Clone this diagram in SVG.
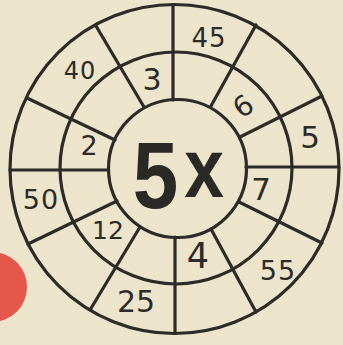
<svg xmlns="http://www.w3.org/2000/svg" width="343" height="345" viewBox="0 0 343 345">
<style>
.ring{fill:none;stroke:#2d2b28;stroke-width:3.2}
.spoke{stroke:#2d2b28;stroke-width:3.2;stroke-linecap:round}
.n{font-family:"DejaVu Sans","Liberation Sans",sans-serif;fill:#2d2b28;text-anchor:middle}
.big{font-family:"Liberation Sans",Arial,sans-serif;font-weight:bold;fill:#2b2926;text-anchor:middle}
</style>
<rect x="0" y="0" width="343" height="345" fill="#ede4cc"/>
<circle id="red-dot" cx="-8" cy="287" r="35" fill="#e5564b"/>
<g id="connectors">
<line class="spoke" x1="173" y1="100" x2="173" y2="5"/>
<line class="spoke" x1="211" y1="106" x2="256" y2="25"/>
<line class="spoke" x1="240" y1="137" x2="322" y2="96"/>
<line class="spoke" x1="246" y1="167" x2="339" y2="167"/>
<line class="spoke" x1="239" y1="202" x2="322" y2="243"/>
<line class="spoke" x1="211" y1="229" x2="256" y2="312"/>
<line class="spoke" x1="175" y1="237" x2="175" y2="333"/>
<line class="spoke" x1="140" y1="227" x2="90" y2="310"/>
<line class="spoke" x1="117" y1="201" x2="28" y2="244"/>
<line class="spoke" x1="108" y1="170" x2="10" y2="170"/>
<line class="spoke" x1="115" y1="140" x2="27" y2="98"/>
<line class="spoke" x1="144" y1="107" x2="96" y2="26"/>
</g>
<g id="outer-ring"><circle class="ring" cx="174.5" cy="169" r="164.5"/></g>
<g id="middle-ring"><circle class="ring" cx="176" cy="168" r="116"/></g>
<g id="center"><circle class="ring" cx="177.5" cy="168.5" r="69"/>
<text class="big" font-size="94" transform="translate(155.5,208) scale(0.87,1)">5</text>
<text class="big" font-size="84" transform="translate(204,197) scale(0.85,1)">x</text>
</g>
<g id="n45"><text class="n" x="209" y="47" font-size="26" letter-spacing="1">45</text></g>
<g id="n3"><text class="n" x="152" y="90" font-size="30">3</text></g>
<g id="n6"><text class="n" font-size="28" transform="translate(243,106) rotate(-35)" y="10">6</text></g>
<g id="n5"><text class="n" x="310" y="148" font-size="31">5</text></g>
<g id="n7"><text class="n" x="261" y="200" font-size="31">7</text></g>
<g id="n55"><text class="n" x="278" y="280" font-size="27" letter-spacing="1">55</text></g>
<g id="n4"><text class="n" x="198" y="268" font-size="35">4</text></g>
<g id="n25"><text class="n" x="136" y="312" font-size="30">25</text></g>
<g id="n12"><text class="n" x="108" y="239" font-size="25">12</text></g>
<g id="n50"><text class="n" x="41" y="209" font-size="27" letter-spacing="1">50</text></g>
<g id="n2"><text class="n" x="89" y="155" font-size="27">2</text></g>
<g id="n40"><text class="n" x="80" y="79" font-size="24" letter-spacing="1">40</text></g>
</svg>
